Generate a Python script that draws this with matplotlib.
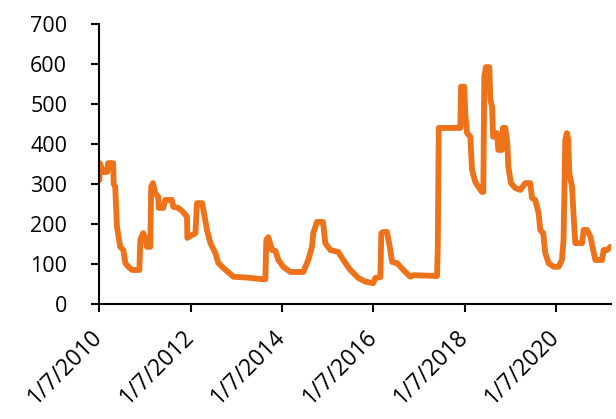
import pandas as pd
import matplotlib
matplotlib.use("Agg")
import matplotlib.pyplot as plt
import matplotlib.dates as mdates

# dados
datas = [
    "2010-07-03", "2010-07-05", "2010-08-02", "2010-09-03", "2010-09-11", "2010-10-21",
    "2010-10-25", "2010-11-06", "2010-11-20", "2010-12-16", "2011-01-10", "2011-01-26",
    "2011-02-19", "2011-03-21", "2011-05-18", "2011-05-26", "2011-06-17", "2011-07-04",
    "2011-07-18", "2011-08-13", "2011-08-21", "2011-09-04", "2011-09-22", "2011-10-16",
    "2011-10-20", "2011-11-25", "2011-12-11", "2012-02-02", "2012-02-13", "2012-03-24",
    "2012-04-22", "2012-06-02", "2012-06-05", "2012-06-29", "2012-08-08", "2012-08-21",
    "2012-10-01", "2012-10-11", "2012-11-09", "2012-12-06", "2013-01-15", "2013-02-08",
    "2013-03-20", "2013-06-08", "2013-09-25", "2014-01-23", "2014-02-18", "2014-02-26",
    "2014-03-14", "2014-04-12", "2014-05-09", "2014-06-02", "2014-07-11", "2014-09-06",
    "2014-12-18", "2015-01-27", "2015-02-26", "2015-03-08", "2015-04-07", "2015-05-25",
    "2015-06-12", "2015-07-22", "2015-09-24", "2015-11-03", "2015-12-29", "2016-03-02",
    "2016-04-27", "2016-06-28", "2016-07-16", "2016-08-25", "2016-09-02", "2016-09-18",
    "2016-10-17", "2016-11-13", "2016-11-27", "2017-01-06", "2017-02-01", "2017-03-13",
    "2017-04-22", "2017-05-16", "2017-11-21", "2017-11-27", "2017-12-05", "2018-05-26",
    "2018-06-01", "2018-06-27", "2018-07-05", "2018-07-19", "2018-08-14", "2018-08-28",
    "2018-09-23", "2018-10-17", "2018-11-15", "2018-11-26", "2018-12-04", "2018-12-17",
    "2019-01-13", "2019-01-21", "2019-02-04", "2019-02-12", "2019-03-15", "2019-03-26",
    "2019-04-24", "2019-05-02", "2019-05-21", "2019-06-06", "2019-06-14", "2019-07-05",
    "2019-08-08", "2019-09-17", "2019-10-27", "2019-12-06", "2019-12-20", "2020-01-15",
    "2020-02-11", "2020-02-24", "2020-03-19", "2020-04-04", "2020-05-01", "2020-06-10",
    "2020-07-19", "2020-08-15", "2020-08-28", "2020-09-11", "2020-09-24", "2020-10-05",
    "2020-10-13", "2020-11-04", "2020-11-17", "2020-11-30", "2021-01-23", "2021-02-05",
    "2021-03-04", "2021-03-31", "2021-04-27", "2021-05-10", "2021-07-02", "2021-07-15",
    "2021-08-11", "2021-09-07",
]
valores = [
    310, 352, 330, 330, 352, 352,
    300, 293, 193, 143, 135, 102,
    93, 85, 85, 160, 177, 165,
    143, 143, 293, 302, 277, 268,
    240, 240, 260, 260, 243, 240,
    233, 218, 165, 170, 177, 252,
    252, 235, 185, 152, 127, 102,
    90, 68, 66, 62, 62, 160,
    167, 135, 133, 110, 93, 80,
    80, 110, 143, 177, 205, 205,
    152, 135, 130, 110, 85, 65,
    56, 52, 65, 67, 177, 180,
    180, 135, 105, 102, 93, 80,
    68, 72, 70, 140, 440, 440,
    543, 543, 475, 427, 418, 335,
    305, 293, 280, 280, 568, 592,
    592, 510, 493, 418, 427, 385,
    385, 440, 440, 402, 343, 302,
    290, 285, 302, 302, 265, 260,
    227, 185, 177, 127, 102, 93,
    93, 110, 160, 410, 427, 410,
    327, 293, 218, 152, 152, 185,
    185, 168, 127, 110, 110, 135,
    135, 143,
]
ticks_x = ["2010-07-01", "2012-07-01", "2014-07-01", "2016-07-01", "2018-07-01", "2020-07-01"]

serie = pd.Series(valores, index=pd.to_datetime(datas))

plt.rcParams['font.family'] = ['Open Sans', 'DejaVu Sans']

fig = plt.figure(figsize=(6.16, 4.19), dpi=100)
ax = fig.add_axes([0.161, 0.2745, 0.831, 0.6685])

ax.plot(serie.index, serie.values, color='#EE7219', linewidth=4.2,
        solid_joinstyle='round', solid_capstyle='round')

ax.set_ylim(0, 700)
ax.set_yticks(range(0, 701, 100))
ax.set_xlim(pd.Timestamp("2010-07-01"), pd.Timestamp("2021-09-12"))
ax.set_xticks(pd.to_datetime(ticks_x))
ax.xaxis.set_major_formatter(
    matplotlib.ticker.FuncFormatter(lambda v, p: "1/7/" + str(mdates.num2date(v).year)))

for s in ['top', 'right']:
    ax.spines[s].set_visible(False)
for s in ['left', 'bottom']:
    ax.spines[s].set_linewidth(1.5)

ax.tick_params(axis='both', direction='out', length=6, width=1.5, labelsize=15.5, colors='black')
ax.tick_params(axis='y', pad=17)
ax.tick_params(axis='x', pad=15, labelsize=16.5)
plt.setp(ax.get_xticklabels(), rotation=45, ha='right', va='center', rotation_mode='anchor')

fig.savefig("out.png", dpi=100)
